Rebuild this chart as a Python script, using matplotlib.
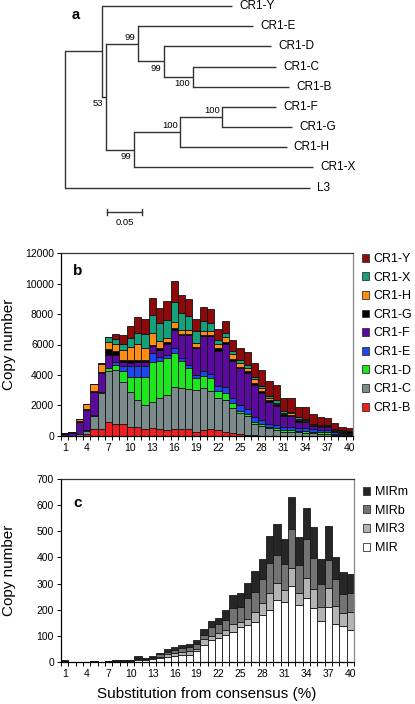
import matplotlib
matplotlib.use("Agg")
import matplotlib.pyplot as plt
import numpy as np
from matplotlib.patches import Patch

plt.rcParams['font.family'] = ['Liberation Sans', 'DejaVu Sans']

# ---------------- Panel a: phylogenetic tree ----------------
# (name, branch length, children)
tree = ("root", 0.0, [
    ("nY", 0.053, [
        ("CR1-Y", 0.186, []),
        ("n53", 0.006, [
            ("nE", 0.046, [
                ("CR1-E", 0.164, []),
                ("nD", 0.037, [
                    ("CR1-D", 0.153, []),
                    ("nCB", 0.041, [("CR1-C", 0.119, []), ("CR1-B", 0.138, [])]),
                ]),
            ]),
            ("nX", 0.040, [
                ("nH", 0.066, [
                    ("nFG", 0.060, [("CR1-F", 0.077, []), ("CR1-G", 0.100, [])]),
                    ("CR1-H", 0.152, []),
                ]),
                ("CR1-X", 0.256, []),
            ]),
        ]),
    ]),
    ("L3", 0.350, []),
])
bootstrap = {"n53": 53, "nE": 99, "nD": 99, "nCB": 100, "nFG": 100, "nH": 100, "nX": 99}
boot_side = {"n53": 1, "nE": -1, "nD": 1, "nCB": 1, "nFG": -1, "nH": -1, "nX": 1}
scale_len = 0.05

# ---------------- Panel b data ----------------
bins = list(range(1, 41))
cr1_names = ["CR1-B", "CR1-C", "CR1-D", "CR1-E", "CR1-F", "CR1-G", "CR1-H", "CR1-X", "CR1-Y"]
cr1_B = [0,0,20,150,440,440,940,800,790,610,570,440,500,440,395,440,440,440,285,395,440,395,285,220,130,65,45,10,20,20,20,20,20,20,20,20,20,10,10,10]
cr1_C = [30,20,80,200,880,2360,3350,3550,2780,2300,1800,1600,1750,2040,2300,2800,2700,2630,2740,2740,2540,2080,2080,1600,1360,1270,745,660,480,370,240,220,220,150,150,130,130,80,80,60]
cr1_D = [0,0,0,20,0,110,150,330,660,990,1530,1860,2630,2470,2410,2230,1750,1380,770,770,810,500,480,330,150,110,110,130,110,110,130,150,110,175,110,90,90,50,30,20]
cr1_E = [0,0,10,30,40,0,50,150,330,660,700,660,550,220,220,285,220,220,220,330,285,330,395,330,395,330,330,260,175,220,175,175,150,150,150,150,150,100,60,40]
cr1_F = [100,200,800,1300,1530,1200,810,500,260,220,220,260,440,480,720,1200,1490,1930,1730,2300,2500,2280,2780,2450,2410,2370,2120,1750,1445,1250,770,720,440,395,200,180,170,80,50,40]
cr1_G = [40,40,60,100,90,110,390,220,175,220,175,175,110,110,90,110,110,110,90,110,65,175,175,110,110,110,150,110,110,110,110,110,110,90,90,80,80,100,130,130]
cr1_H = [0,0,130,300,420,500,480,500,660,830,1050,770,770,480,285,440,260,260,260,220,260,285,285,330,260,220,220,260,175,110,90,90,65,45,30,20,20,15,10,10]
cr1_X = [0,0,0,0,0,80,310,300,390,590,700,940,1200,1160,1200,1310,1095,875,770,660,500,260,260,220,175,200,175,130,130,175,130,110,110,90,65,50,40,30,20,15]
cr1_Y = [0,0,0,0,0,0,0,350,550,770,1050,960,1095,985,1200,1380,1160,1160,810,940,920,700,810,720,770,830,920,1030,960,985,810,875,657,765,635,550,500,415,220,175]
cr1_colors = ["#f01e1e", "#7b8b8b", "#1ee61e", "#1e46f0", "#5a0a9c", "#000000", "#ff8c14", "#14a07a", "#8c0a0a"]

# ---------------- Panel c data ----------------
mir_names = ["MIR", "MIR3", "MIRb", "MIRm"]
mir_MIR = [3,0,0,0,3,0,2,3,3,4,8,5,10,13,19,22,26,26,41,64,83,90,102,115,134,141,154,179,198,237,230,291,218,246,205,157,211,145,137,122]
mir_MIR3 = [0,0,0,0,0,0,0,1,1,1,4,3,4,6,9,13,13,15,8,22,17,19,19,29,19,23,38,45,67,64,47,70,45,77,73,54,70,67,49,67]
mir_MIRb = [0,0,0,0,0,0,1,1,1,1,4,2,4,9,10,10,15,17,19,17,35,36,38,64,58,82,77,92,113,109,97,147,109,148,119,87,109,105,73,74]
mir_MIRm = [2,0,0,0,1,0,1,1,1,2,6,3,4,7,10,10,9,9,15,22,23,24,41,47,51,55,79,78,106,119,96,125,105,120,119,95,131,84,84,75]
mir_colors = ["#ffffff", "#b4b4b4", "#737373", "#262626"]

xtick_labels = [str(v) for v in range(1, 41, 3)]

W, H = 415, 704
fig = plt.figure(figsize=(W / 100, H / 100), dpi=100)

# ---- tree axes ----
axa = fig.add_axes([0, 1 - 230 / H, 1, 230 / H])
axa.axis("off")
root_px, unit_px = 64.7, 700.0
tip_y0, tip_dy = 6.0, 20.17
axa.set_xlim(-root_px / unit_px, (W - root_px) / unit_px)
axa.set_ylim((230 - tip_y0) / tip_dy, -tip_y0 / tip_dy)

counter = [0]
lc = "#333333"
lw = 1.0

def layout(node, x0):
    name, bl, kids = node
    x = x0 + bl
    if not kids:
        y = counter[0]
        counter[0] += 1
        axa.text(x + 7 / unit_px, y, name, ha="left", va="center", fontsize=8.5)
    else:
        ys = [layout(k, x) for k in kids]
        axa.plot([x, x], [min(ys), max(ys)], color=lc, lw=lw, solid_capstyle="projecting")
        y = (ys[0] + ys[-1]) / 2
        if name in bootstrap:
            axa.text(x - 2.5 / unit_px, y + boot_side[name] * 0.33, str(bootstrap[name]),
                     ha="right", va="center", fontsize=6.8)
    if name != "root":
        axa.plot([x0, x], [y, y], color=lc, lw=lw, solid_capstyle="butt")
    return y

layout(tree, 0.0)
sb_x0 = (107 - root_px) / unit_px
sb_y = (212 - tip_y0) / tip_dy
axa.plot([sb_x0, sb_x0 + scale_len], [sb_y, sb_y], color=lc, lw=lw)
for xx in (sb_x0, sb_x0 + scale_len):
    axa.plot([xx, xx], [sb_y - 0.13, sb_y + 0.13], color=lc, lw=lw)
axa.text(sb_x0 + scale_len / 2, sb_y + 0.5, f"{scale_len:.2f}", ha="center", va="center", fontsize=6.8)
axa.text((72 - root_px) / unit_px, (15 - tip_y0) / tip_dy, "a", fontsize=10.5, fontweight="bold",
         ha="left", va="center")

def style_axes(ax, ymax, ystep, width_px):
    ax.set_xlim(0.5, 40.5)
    ax.set_ylim(0, ymax)
    ax.set_yticks(np.arange(0, ymax + 1, ystep))
    ax.set_xticks(list(range(1, 41, 3)))
    ax.set_xticklabels(xtick_labels)
    ax.set_xticks(np.arange(0.5, 41, 1), minor=True)
    ax.tick_params(axis="x", which="major", length=0, labelsize=7.5, pad=5)
    ax.tick_params(axis="x", which="minor", length=3, width=0.7, direction="out")
    ax.tick_params(axis="y", which="major", length=3, width=0.7, labelsize=7.5, pad=2)
    ax.spines["left"].set_color("#000000")
    ax.spines["bottom"].set_color("#000000")
    ax.spines["top"].set_color("#333333")
    ax.spines["right"].set_color("#888888")
    for s in ax.spines.values():
        s.set_linewidth(0.9)
    ax.set_ylabel("Copy number", fontsize=11)
    ax.yaxis.set_label_coords((16 - 61) / width_px, 0.5)

# ---- panel b ----
axb = fig.add_axes([61 / W, 1 - 436 / H, 292 / W, 183 / H])
series_b = [cr1_B, cr1_C, cr1_D, cr1_E, cr1_F, cr1_G, cr1_H, cr1_X, cr1_Y]
bottom = np.zeros(len(bins))
for vals, col, nm in zip(series_b, cr1_colors, cr1_names):
    axb.bar(bins, vals, width=1.0, bottom=bottom, color=col, edgecolor="#111111", linewidth=0.6, label=nm)
    bottom += np.array(vals)
style_axes(axb, 12000, 2000, 292)
axb.text(0.042, 0.9, "b", transform=axb.transAxes, fontsize=11, fontweight="bold", ha="left", va="center")
hb = [Patch(facecolor=c, edgecolor="#333333", linewidth=0.6, label=n) for c, n in zip(cr1_colors, cr1_names)][::-1]
axb.legend(handles=hb, loc="upper left", bbox_to_anchor=(1.03, 1.0), frameon=False, fontsize=9,
           handlelength=0.6, handleheight=0.6, handletextpad=0.35, labelspacing=0.53, borderpad=0, borderaxespad=0)

# ---- panel c ----
axc = fig.add_axes([61 / W, 1 - 661.7 / H, 293 / W, 182.4 / H])
series_c = [mir_MIR, mir_MIR3, mir_MIRb, mir_MIRm]
bottom = np.zeros(len(bins))
for vals, col, nm in zip(series_c, mir_colors, mir_names):
    axc.bar(bins, vals, width=1.0, bottom=bottom, color=col, edgecolor="#1a1a1a", linewidth=0.6, label=nm)
    bottom += np.array(vals)
style_axes(axc, 700, 100, 293)
axc.set_xlabel("Substitution from consensus (%)", fontsize=11)
axc.xaxis.set_label_coords(0.498, -0.139)
axc.text(0.042, 0.872, "c", transform=axc.transAxes, fontsize=11, fontweight="bold", ha="left", va="center")
hc = [Patch(facecolor=c, edgecolor="#333333", linewidth=0.6, label=n) for c, n in zip(mir_colors, mir_names)][::-1]
axc.legend(handles=hc, loc="upper left", bbox_to_anchor=(1.03, 0.962), frameon=False, fontsize=9,
           handlelength=0.6, handleheight=0.6, handletextpad=0.35, labelspacing=0.53, borderpad=0, borderaxespad=0)

fig.savefig("out.png", dpi=100)
